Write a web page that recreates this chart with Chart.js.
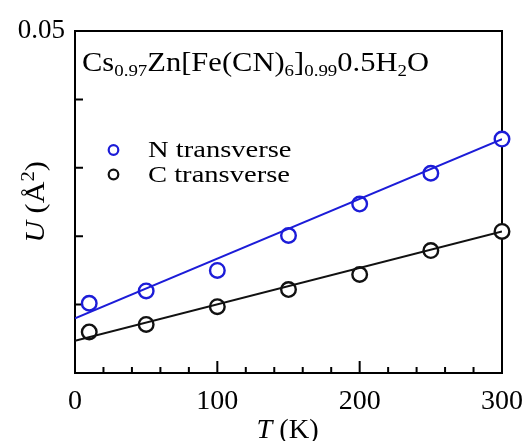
<!DOCTYPE html>
<html>
<head>
<meta charset="utf-8">
<script src="https://cdn.jsdelivr.net/npm/chart.js@4/dist/chart.umd.min.js"></script>
<style>
  body { margin: 0; background: #fff; }
  canvas { display: block; }
</style>
</head>
<body>
<canvas id="chart" width="527" height="441"></canvas>
<script>
// temperatures (K) and mean-square displacements U (Å^2)
const temps = [10, 50, 100, 150, 200, 250, 300];
const uN = [0.0102, 0.0120, 0.0150, 0.0201, 0.0247, 0.0292, 0.0342];
const uC = [0.0060, 0.0071, 0.0097, 0.0122, 0.0144, 0.0179, 0.0207];

// linear fits, read at the ends of the axis
const fitT = [0, 300];
const fitN = [0.0080, 0.0342];
const fitC = [0.0047, 0.0207];

const seriesNames = ["N transverse", "C transverse"];
const seriesColors = ["#1c1cd8", "#111111"];

const xMajor = [0, 100, 200, 300];
const xMinor = [20, 40, 60, 80, 120, 140, 160, 180, 220, 240, 260, 280];
const yTicks = [0, 0.01, 0.02, 0.03, 0.04, 0.05];

const serif = "'Liberation Serif', 'Times New Roman', serif";

const pts = (xs, ys) => xs.map((x, i) => ({ x: x, y: ys[i] }));

// draws a run of [text, kind, italic] pieces: kind 0 normal, 1 subscript, 2 superscript
function drawRich(ctx, parts, x, y, size, subScale) {
  const k = subScale || 0.68;
  parts.forEach(p => {
    const kind = p[1] || 0;
    const fs = kind ? size * k : size;
    ctx.font = (p[2] ? "italic " : "") + fs + "px " + serif;
    const dy = kind === 1 ? size * 0.2 : kind === 2 ? -size * 0.38 : 0;
    ctx.fillText(p[0], x, y + dy);
    x += ctx.measureText(p[0]).width;
  });
  return x;
}

function richWidth(ctx, parts, size, subScale) {
  const k = subScale || 0.68;
  let w = 0;
  parts.forEach(p => {
    const fs = p[1] ? size * k : size;
    ctx.font = (p[2] ? "italic " : "") + fs + "px " + serif;
    w += ctx.measureText(p[0]).width;
  });
  return w;
}

const decor = {
  id: "decor",
  beforeDatasetsDraw(chart) {
    const ctx = chart.ctx;
    const a = chart.chartArea;
    const xs = chart.scales.x, ys = chart.scales.y;
    ctx.save();
    ctx.strokeStyle = "#000";
    ctx.lineWidth = 2;
    ctx.strokeRect(a.left, a.top, a.right - a.left, a.bottom - a.top);
    ctx.beginPath();
    xMajor.forEach(v => {
      const px = xs.getPixelForValue(v);
      ctx.moveTo(px, a.bottom);
      ctx.lineTo(px, a.bottom - 12);
    });
    xMinor.forEach(v => {
      const px = xs.getPixelForValue(v);
      ctx.moveTo(px, a.bottom);
      ctx.lineTo(px, a.bottom - 6);
    });
    yTicks.forEach(v => {
      const py = ys.getPixelForValue(v);
      ctx.moveTo(a.left, py);
      ctx.lineTo(a.left + 8, py);
    });
    ctx.stroke();
    ctx.restore();
  },
  afterDraw(chart) {
    const ctx = chart.ctx;
    const a = chart.chartArea;
    ctx.save();
    ctx.fillStyle = "#000";
    ctx.textBaseline = "alphabetic";
    ctx.textAlign = "left";

    // compound formula (the source font is set wider than Times)
    ctx.save();
    ctx.translate(a.left + 7, 71);
    ctx.scale(1.13, 1);
    drawRich(ctx, [
      ["Cs"], ["0.97", 1], ["Zn[Fe(CN)"], ["6", 1], ["]"], ["0.99", 1],
      ["0.5H"], ["2", 1], ["O"]
    ], 0, 0, 27, 0.62);
    ctx.restore();

    // legend
    seriesNames.forEach((name, i) => {
      const cy = 150 + i * 24.5;
      ctx.beginPath();
      ctx.strokeStyle = seriesColors[i];
      ctx.lineWidth = 2.2;
      ctx.arc(113.5, cy, 4.8, 0, Math.PI * 2);
      ctx.stroke();
      ctx.save();
      ctx.translate(148, cy + 1);
      ctx.scale(1.19, 1);
      ctx.fillStyle = "#000";
      ctx.font = "24px " + serif;
      ctx.textBaseline = "middle";
      ctx.fillText(name, 0, 0);
      ctx.restore();
    });

    // x axis title
    const xt = [["T", 0, true], [" (K)"]];
    const xw = richWidth(ctx, xt, 27) * 1.05;
    ctx.save();
    ctx.translate((a.left + a.right) / 2 - xw / 2 - 1, 438);
    ctx.scale(1.05, 1);
    drawRich(ctx, xt, 0, 0, 27);
    ctx.restore();

    // y axis title
    const yt = [["U", 0, true], [" (Å"], ["2", 2], [")"]];
    const yw = richWidth(ctx, yt, 27) * 1.12;
    ctx.translate(44, (a.top + a.bottom) / 2);
    ctx.rotate(-Math.PI / 2);
    ctx.scale(1.12, 1);
    drawRich(ctx, yt, -yw / 2 / 1.12, 0, 27);
    ctx.restore();
  }
};

new Chart(document.getElementById("chart"), {
  type: "scatter",
  data: {
    datasets: [
      {
        label: seriesNames[0] + " fit",
        type: "line",
        data: pts(fitT, fitN),
        borderColor: seriesColors[0],
        borderWidth: 2,
        pointRadius: 0,
        fill: false
      },
      {
        label: seriesNames[1] + " fit",
        type: "line",
        data: pts(fitT, fitC),
        borderColor: seriesColors[1],
        borderWidth: 2,
        pointRadius: 0,
        fill: false
      },
      {
        label: seriesNames[0],
        data: pts(temps, uN),
        borderColor: seriesColors[0],
        backgroundColor: "#fff",
        borderWidth: 2.4,
        pointRadius: 7.3,
        clip: false
      },
      {
        label: seriesNames[1],
        data: pts(temps, uC),
        borderColor: seriesColors[1],
        backgroundColor: "#fff",
        borderWidth: 2.4,
        pointRadius: 7.3,
        clip: false
      }
    ]
  },
  options: {
    responsive: false,
    animation: false,
    layout: { padding: { left: 0, right: 24, top: 31, bottom: 0 } },
    plugins: {
      legend: { display: false },
      tooltip: { enabled: false }
    },
    scales: {
      x: {
        type: "linear",
        min: 0,
        max: 300,
        afterFit: s => { s.height = 68; },
        grid: { display: false },
        border: { display: false },
        ticks: {
          stepSize: 100,
          padding: 4,
          color: "#000",
          font: { family: serif, size: 28 }
        }
      },
      y: {
        min: 0,
        max: 0.05,
        afterFit: s => { s.width = 75; },
        grid: { display: false },
        border: { display: false },
        ticks: {
          stepSize: 0.05,
          padding: 2,
          color: "#000",
          font: { family: serif, size: 27 },
          callback: v => (Math.abs(v - 0.05) < 1e-9 ? "0.05" : "")
        }
      }
    }
  },
  plugins: [decor]
});
</script>
</body>
</html>
